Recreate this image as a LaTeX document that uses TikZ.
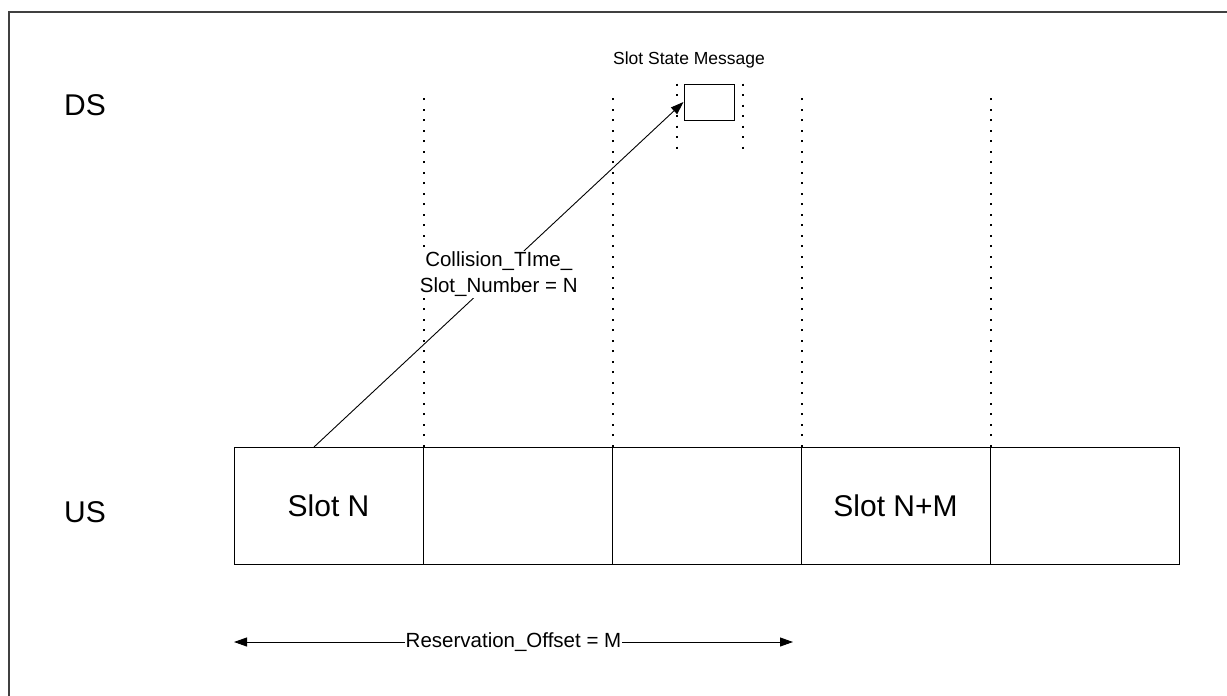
\documentclass[tikz,border=0pt]{standalone}
\usepackage{fontspec}
\setmainfont{Liberation Sans}
\usetikzlibrary{positioning,arrows.meta}

\begin{document}
\begin{tikzpicture}[
  x=1pt, y=-1pt,
  slot/.style={draw, line width=1pt, minimum width=189pt, minimum height=117pt,
    inner sep=0pt, font=\fontsize{30}{36}\selectfont},
  lane/.style={font=\fontsize{30}{36}\selectfont},
  lbl/.style={fill=white, inner sep=1pt, align=center, font=\fontsize{20.5}{26}\selectfont},
  guide/.style={line width=2pt, dash pattern=on 2pt off 8.5pt},
  arr/.style={-{Triangle[length=13pt, width=9pt]}, line width=0.9pt}
]
\useasboundingbox (0,0) rectangle (1227,696);
\draw[line width=1.5pt, black!75] (9,696) -- (9,12) -- (1227,12);

\node[lane] (ds) at (85,105) {DS};
\node[lane] (us) at (85,512) {US};

% upstream slots
\foreach \i/\txt in {1/Slot N, 2/, 3/, 4/Slot N+M, 5/}
  \node[slot] (s\i) at ({328.5+189*(\i-1)},505.5) {\txt};
\foreach \i in {1,...,4}
  \draw[guide] (s\i.north east) -- ++(0,-355);

% downstream message
\node[draw, line width=1pt, minimum width=50pt, minimum height=36pt] (msg) at (709,102) {};
\node[font=\fontsize{17.5}{21}\selectfont] (msgtxt) at (689,60) {Slot State Message};
\draw[guide] (msg.north west) ++(-7,0) -- ++(0,68);
\draw[guide] (msg.north east) ++(8,0) -- ++(0,68);

\coordinate (tx) at (314,447);
\draw[arr] (tx) -- node[lbl] (cts) {Collision\_TIme\_\\Slot\_Number = N} (msg.west);

% offset
\coordinate (ro-l) at (234,642);
\coordinate (ro-r) at (793,642);
\draw[arr, {Triangle[length=13pt, width=9pt]}-{Triangle[length=13pt, width=9pt]}] (ro-l) -- node[lbl] (ro) {Reservation\_Offset = M} (ro-r);
\end{tikzpicture}
\end{document}
